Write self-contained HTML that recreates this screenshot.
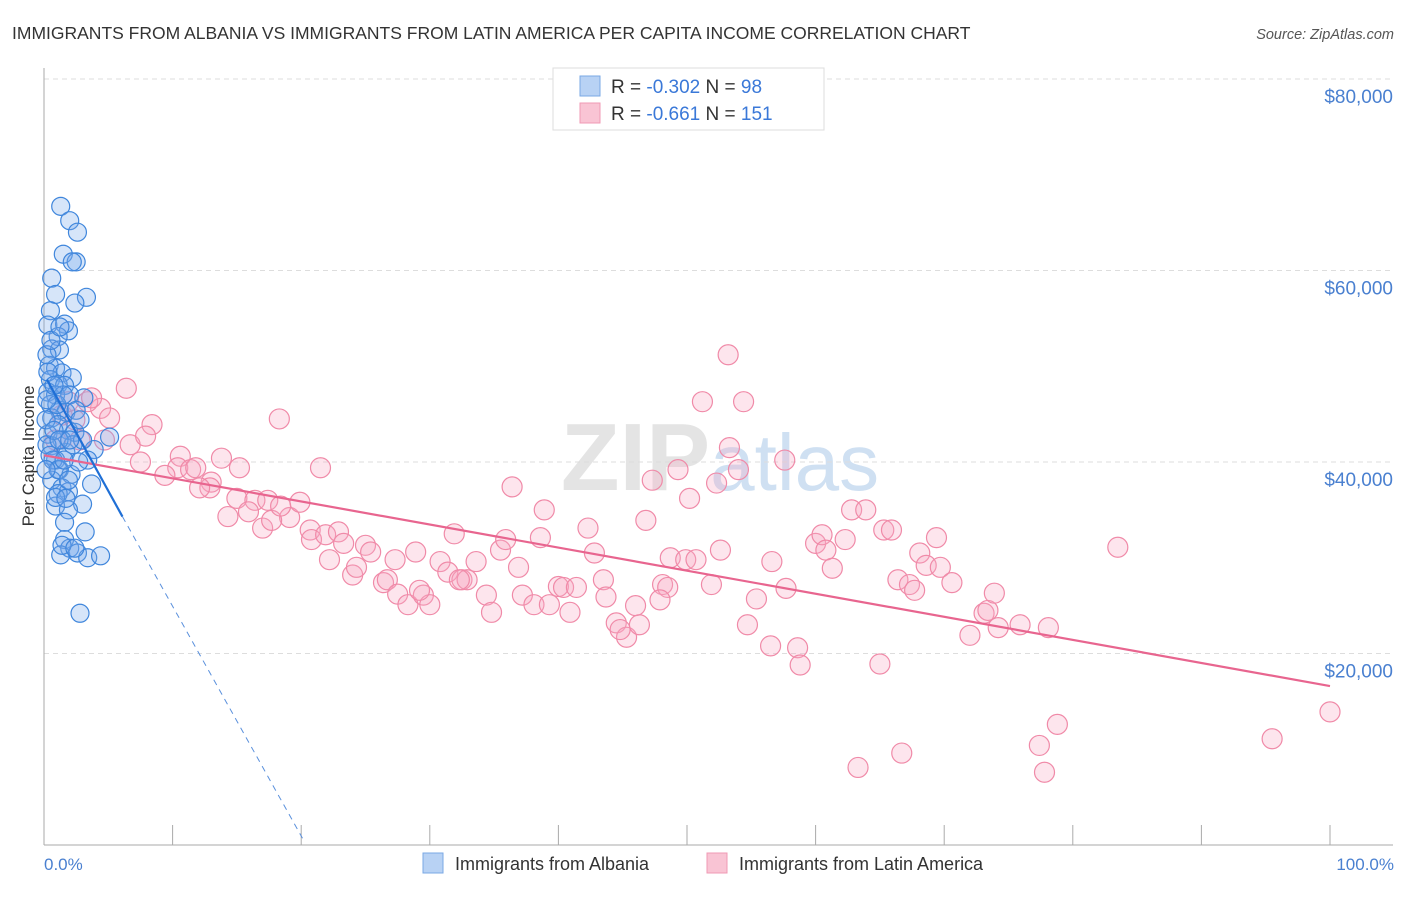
<!DOCTYPE html>
<html><head><meta charset="utf-8"><style>
body{margin:0;background:#fff;font-family:"Liberation Sans",sans-serif;}
svg text{font-family:"Liberation Sans",sans-serif;}
</style></head><body>
<svg id="chart" width="1406" height="892" xmlns="http://www.w3.org/2000/svg">
<text x="12" y="39" font-size="17.5" fill="#333">IMMIGRANTS FROM ALBANIA VS IMMIGRANTS FROM LATIN AMERICA PER CAPITA INCOME CORRELATION CHART</text>
<text x="1394" y="39" font-size="14.5" fill="#555" font-style="italic" text-anchor="end">Source: ZipAtlas.com</text>
<text x="720" y="490" font-size="96" fill="#e4e4e4" text-anchor="middle" font-family="Liberation Serif"><tspan font-weight="bold">ZIP</tspan><tspan fill="#cfe0f2" font-family="Liberation Sans" font-size="80">atlas</tspan></text>
<g id="grid"></g><g id="axes"></g><g id="pts"></g><g id="trend"></g>
<text transform="translate(34,456) rotate(-90)" font-size="17" fill="#333" text-anchor="middle">Per Capita Income</text>
<text x="44" y="870" font-size="17" fill="#4a80d0">0.0%</text>
<text x="1394" y="870" font-size="17" fill="#4a80d0" text-anchor="end">100.0%</text>
<g>
<rect x="553" y="68" width="271" height="62" fill="#fff" stroke="#ddd"/>
<rect x="580" y="76" width="20" height="20" fill="#b8d2f4" stroke="#7aa8e4"/>
<rect x="580" y="103" width="20" height="20" fill="#f9c4d4" stroke="#f09ab4"/>
<text x="611" y="93" font-size="19" fill="#333">R = <tspan fill="#3a78d8">-0.302</tspan>   N = <tspan fill="#3a78d8"> 98</tspan></text>
<text x="611" y="120" font-size="19" fill="#333">R =  <tspan fill="#3a78d8">-0.661</tspan>   N = <tspan fill="#3a78d8">151</tspan></text>
</g>
<g>
<rect x="423" y="853" width="20" height="20" fill="#b8d2f4" stroke="#7aa8e4"/>
<text x="455" y="870" font-size="18" fill="#333">Immigrants from Albania</text>
<rect x="707" y="853" width="20" height="20" fill="#f9c4d4" stroke="#f09ab4"/>
<text x="739" y="870" font-size="18" fill="#333">Immigrants from Latin America</text>
</g>
</svg>
<script>
const yTicks=[20000,40000,60000,80000];
const yTickLabels=["$20,000","$40,000","$60,000","$80,000"];
const xTicks=[0,10,20,30,40,50,60,70,80,90,100];
const blueX=[1.3,2.0,2.6,1.5,2.5,2.2,0.6,0.9,3.3,2.4,0.5,0.3,1.6,1.9,1.1,0.6,1.2,0.4,0.9,1.4,0.5,2.2,1.1,1.6,0.3,0.9,2.0,3.1,0.5,1.2,1.7,0.6,1.1,1.9,0.3,2.4,5.1,1.4,0.6,3.9,1.7,3.4,0.9,1.2,2.1,0.6,3.7,1.4,1.9,1.1,3.0,0.9,1.9,1.6,3.2,1.6,2.0,1.3,2.6,3.4,4.4,2.8,0.16,0.23,0.47,0.78,1.0,1.5,0.23,0.7,1.1,0.16,2.25,2.7,3.0,2.5,1.17,1.56,1.9,1.4,2.4,0.9,1.7,0.3,0.23,0.54,1.24,2.0,2.8,0.78];
const blueY=[66.7,65.2,64.0,61.7,60.9,60.9,59.2,57.5,57.2,56.6,55.8,54.3,54.4,53.7,53.1,51.8,51.7,50.1,49.8,49.3,48.6,48.8,48.1,48.0,47.3,47.0,47.0,46.7,46.0,45.4,45.2,44.6,43.9,43.3,42.9,43.1,42.6,42.3,41.7,41.3,41.0,40.2,40.2,39.2,38.7,38.1,37.7,37.3,36.9,36.7,35.6,35.4,35.0,33.7,32.7,31.9,31.0,30.3,30.5,30.0,30.2,24.2,44.4,41.8,40.7,43.3,46.0,47.0,46.5,40.2,39.2,39.2,41.8,40.0,42.3,45.4,42.3,40.2,38.1,31.3,31.0,36.3,36.2,49.4,51.2,52.7,54.1,42.3,44.4,48.0];
const pinkX=[6.4,18.3,53.2,51.2,54.4,4.4,3.4,5.1,1.4,2.4,2.8,0.9,6.7,8.4,7.9,10.6,10.4,11.4,9.4,11.8,13.0,12.9,13.8,15.0,14.3,16.4,15.9,17.0,17.4,19.1,19.9,20.7,21.5,20.8,21.9,22.9,23.3,24.0,24.3,25.0,25.4,26.4,26.7,27.5,28.3,28.9,29.5,30.0,30.8,31.4,31.9,32.5,32.9,33.6,34.4,34.8,35.5,35.9,36.4,36.9,37.2,38.1,38.6,38.9,40.0,40.4,41.4,40.9,42.3,42.8,43.5,43.7,44.5,45.3,46.0,46.3,46.8,47.3,48.7,48.1,48.5,49.3,49.9,50.2,50.7,51.9,52.3,52.6,53.3,54.0,54.7,55.4,56.6,56.5,57.6,57.7,58.6,58.8,60.0,60.5,60.8,61.3,62.3,63.3,62.8,63.9,65.0,65.3,65.9,66.4,66.7,67.3,67.7,68.1,68.6,69.4,69.7,70.6,72.0,73.1,73.4,73.9,74.2,75.9,77.4,77.8,78.1,78.8,83.5,95.5,100,1.9,3.7,4.7,7.5,12.1,15.2,17.7,18.4,22.2,27.3,29.2,32.3,39.3,44.8,47.9];
const pinkY=[47.7,44.5,51.2,46.3,46.3,45.6,46.3,44.6,44.9,44.4,42.3,42.3,41.8,43.9,42.7,40.6,39.4,39.2,38.6,39.4,37.9,37.3,40.4,36.2,34.3,36.0,34.8,33.1,36.0,34.2,35.8,32.9,39.4,31.9,32.4,32.7,31.5,28.2,29.0,31.3,30.6,27.4,27.7,26.2,25.1,30.6,26.1,25.1,29.6,28.5,32.5,27.7,27.7,29.6,26.1,24.3,30.8,31.9,37.4,29.0,26.1,25.1,32.1,35.0,27.0,26.9,26.9,24.3,33.1,30.5,27.7,25.9,23.2,21.7,25.0,23.0,33.9,38.1,30.0,27.2,26.9,39.2,29.8,36.2,29.8,27.2,37.8,30.8,41.5,39.2,23.0,25.7,29.6,20.8,40.2,26.8,20.6,18.8,31.5,32.4,30.8,28.9,31.9,8.1,35.0,35.0,18.9,32.9,32.9,27.7,9.6,27.2,26.6,30.5,29.2,32.1,29.0,27.4,21.9,24.2,24.5,26.3,22.7,23.0,10.4,7.6,22.7,12.6,31.1,11.1,13.9,46.3,46.7,42.3,40.0,37.3,39.4,33.9,35.4,29.8,29.8,26.6,27.7,25.1,22.5,25.6];
const blueTrendX=[0.23,6.1,20.1];
const blueTrendY=[48.6,34.3,0.7];
const pinkTrendX=[0,100];
const pinkTrendY=[40.7,16.6];
const NS="http://www.w3.org/2000/svg";
const xs=p=>44+p*12.86;
const ys=v=>845-v*0.009575;
const yk=k=>ys(k*1000);
function mk(tag,attrs,parent){const e=document.createElementNS(NS,tag);for(const k in attrs)e.setAttribute(k,attrs[k]);document.getElementById(parent).appendChild(e);return e;}
yTicks.forEach((t,i)=>{
 const l=mk('line',{x1:44,x2:1393,y1:ys(t),y2:ys(t),stroke:'#ddd','stroke-dasharray':'5,4'},'grid');
 
 
 const tx=mk('text',{x:1393,y:ys(t)+24,'font-size':19,fill:'#4a80d0','text-anchor':'end'},'grid');
 tx.textContent=yTickLabels[i];
 
 
});
let a=mk('line',{x1:44,x2:44,y1:68,y2:845,stroke:'#aaa'},'axes');


a=mk('line',{x1:44,x2:1393,y1:845,y2:845,stroke:'#aaa'},'axes');


xTicks.forEach(t=>{
 const l=mk('line',{x1:xs(t),x2:xs(t),y1:825,y2:845,stroke:'#aaa'},'axes');
 
 
});
pinkX.forEach((x,i)=>{
 const c=mk('circle',{cx:xs(x),cy:yk(pinkY[i]),r:10,fill:'rgba(248,170,195,0.3)',stroke:'#f08aa8','stroke-width':1.2},'pts');
 
 
});
blueX.forEach((x,i)=>{
 const c=mk('circle',{cx:xs(x),cy:yk(blueY[i]),r:9,fill:'rgba(120,170,235,0.3)',stroke:'#3f86dc','stroke-width':1.2},'pts');
 
 
});
let t=mk('line',{x1:xs(pinkTrendX[0]),y1:yk(pinkTrendY[0]),x2:xs(pinkTrendX[1]),y2:yk(pinkTrendY[1]),stroke:'#e8658f','stroke-width':2.2},'trend');


t=mk('line',{x1:xs(blueTrendX[0]),y1:yk(blueTrendY[0]),x2:xs(blueTrendX[1]),y2:yk(blueTrendY[1]),stroke:'#1f6fd6','stroke-width':2.2},'trend');


t=mk('line',{x1:xs(blueTrendX[1]),y1:yk(blueTrendY[1]),x2:xs(blueTrendX[2]),y2:yk(blueTrendY[2]),stroke:'#5a90dc','stroke-width':1,'stroke-dasharray':'6,5'},'trend');


</script>
</body></html>
